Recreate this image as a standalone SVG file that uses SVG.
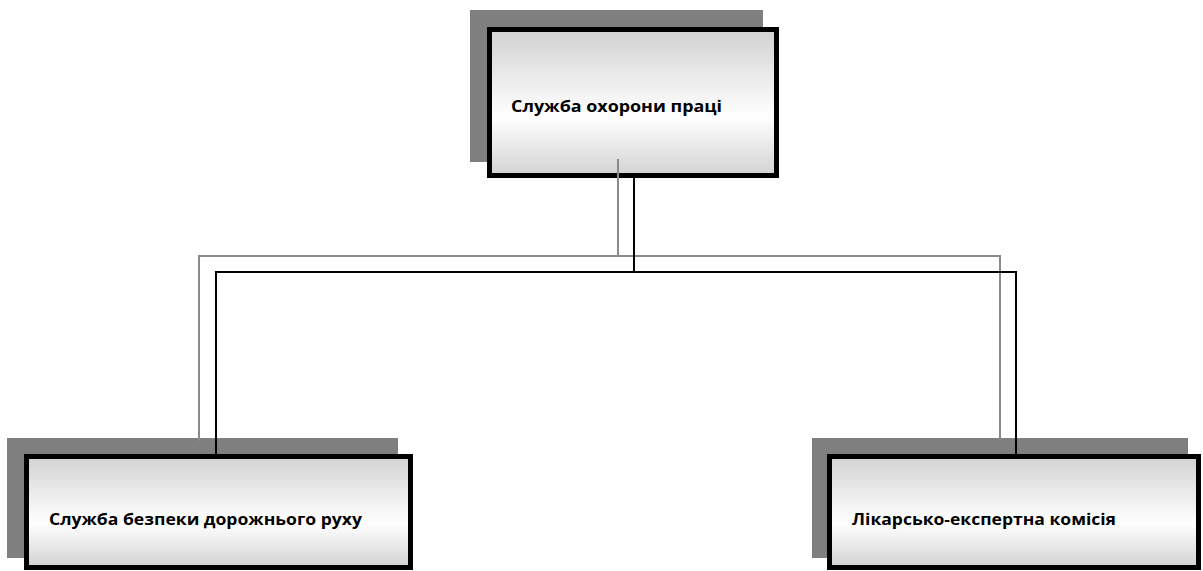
<svg xmlns="http://www.w3.org/2000/svg" width="1203" height="571" viewBox="0 0 1203 571">
  <defs>
    <linearGradient id="boxFill" x1="0" y1="0" x2="0" y2="1">
      <stop offset="0" stop-color="#d2d2d2"/>
      <stop offset="0.6" stop-color="#ffffff"/>
      <stop offset="1" stop-color="#d2d2d2"/>
    </linearGradient>
  </defs>
  <style>
    .shadow { fill: #7f7f7f; }
    .box { fill: url(#boxFill); stroke: #000; stroke-width: 5; }
    .label { font-family: "Open Sans", "Liberation Sans", Arial, sans-serif; font-weight: bold; font-size: 16px; fill: #000; }
    .line-gray { fill: none; stroke: #8a8a8a; stroke-width: 2; }
    .line-black { fill: none; stroke: #000; stroke-width: 2; }
  </style>
  <rect width="1203" height="571" fill="#fff"/>

  <!-- top node -->
  <g id="node-ohorona-pratsi">
    <rect class="shadow" x="470" y="10" width="293" height="152"/>
    <rect class="box" x="489.5" y="29.5" width="287" height="146"/>
    <text class="label" x="511" y="112" textLength="211" lengthAdjust="spacingAndGlyphs">Служба охорони праці</text>
  </g>

  <!-- bottom left node -->
  <g id="node-bezpeka-rukhu">
    <rect class="shadow" x="7" y="438" width="391" height="120"/>
    <rect class="box" x="26.5" y="456.5" width="384" height="111"/>
    <text class="label" x="49" y="525" textLength="313" lengthAdjust="spacingAndGlyphs">Служба безпеки дорожнього руху</text>
  </g>

  <!-- bottom right node -->
  <g id="node-likarsko-ekspertna">
    <rect class="shadow" x="812" y="438" width="376" height="120"/>
    <rect class="box" x="829.5" y="456.5" width="369" height="111"/>
    <text class="label" x="852" y="525" textLength="264" lengthAdjust="spacingAndGlyphs">Лікарсько-експертна комісія</text>
  </g>

  <!-- connectors: grey shadow line and black line -->
  <g id="connectors">
    <polyline class="line-gray" points="618,159 618,256"/>
    <polyline class="line-gray" points="199,441 199,256 1000,256 1000,441"/>
    <polyline class="line-black" points="634,178 634,272"/>
    <polyline class="line-black" points="216,456 216,272 1017,272"/>
    <polyline class="line-black" points="1016,272 1016,456"/>
  </g>
</svg>
